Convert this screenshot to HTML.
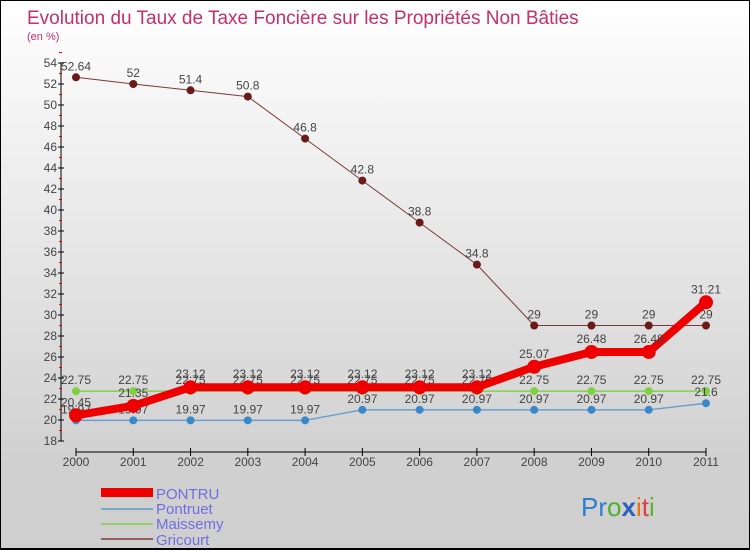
<!DOCTYPE html>
<html><head><meta charset="utf-8"><style>
body{margin:0}
#c{width:750px;height:550px;position:relative;background:linear-gradient(#ffffff,#d0d0d0 85%,#cfcfcf);font-family:"Liberation Sans",sans-serif;overflow:hidden;box-sizing:border-box;border:1px solid #000;border-bottom:2px solid #000}
svg text{font-family:"Liberation Sans",sans-serif}
</style></head><body>
<div id="c">
<svg width="750" height="550" id="s">
<text x="26" y="23" font-size="19" fill="#c3306a">Evolution du Taux de Taxe Foncière sur les Propriétés Non Bâties</text>
<text x="26" y="39" font-size="11" fill="#c3306a">(en %)</text>
<g id="ax"></g><g id="ser"></g>
<g font-size="15">
<rect x="100" y="487" width="52" height="9" fill="#e00"/>
<text x="155" y="498" fill="#6f6fe0">PONTRU</text>
<line x1="100" y1="508" x2="152" y2="508" stroke="#7aa8c8" stroke-width="2"/>
<text x="155" y="513" fill="#6f6fe0">Pontruet</text>
<line x1="100" y1="523" x2="152" y2="523" stroke="#90d070" stroke-width="2"/>
<text x="155" y="528" fill="#6f6fe0">Maissemy</text>
<line x1="100" y1="538" x2="152" y2="538" stroke="#946060" stroke-width="2"/>
<text x="155" y="544" fill="#6f6fe0">Gricourt</text>
</g>
<text x="580" y="515" font-size="26"><tspan fill="#2a7fd0">Pr</tspan><tspan fill="#50b030">o</tspan><tspan fill="#2a60c0" font-weight="bold">x</tspan><tspan fill="#f07010">i</tspan><tspan fill="#e04040">t</tspan><tspan fill="#60b030">i</tspan></text>
</svg></div>
<script>
const years=[2000,2001,2002,2003,2004,2005,2006,2007,2008,2009,2010,2011];
const pontru=[20.45,21.35,23.12,23.12,23.12,23.12,23.12,23.12,25.07,26.48,26.48,31.21];
const pontruet=[19.97,19.97,19.97,19.97,19.97,20.97,20.97,20.97,20.97,20.97,20.97,21.6];
const maissemy=[22.75,22.75,22.75,22.75,22.75,22.75,22.75,22.75,22.75,22.75,22.75,22.75];
const gricourt=[52.64,52,51.4,50.8,46.8,42.8,38.8,34.8,29,29,29,29];
const yTicks=[18,20,22,24,26,28,30,32,34,36,38,40,42,44,46,48,50,52,54];
const NS="http://www.w3.org/2000/svg";
const X=i=>75+i*(630/11);
const Y=v=>440-(v-18)*10.5;
function mk(p,t,a){const e=document.createElementNS(NS,t);for(const k in a)e.setAttribute(k,a[k]);p.appendChild(e);return e;}
const ax=document.getElementById('ax');
let l=mk(ax,'line',{x1:60,y1:Y(54),x2:60,y2:Y(18),stroke:'#000'});


yTicks.forEach(v=>{
 mk(ax,'line',{x1:57,x2:63,y1:Y(v),y2:Y(v),stroke:'#000'});
 mk(ax,'line',{x1:58,x2:61,y1:Y(v+1),y2:Y(v+1),stroke:'#e00'});
 const t=mk(ax,'text',{x:56,y:Y(v)+4,'font-size':12,'text-anchor':'end',fill:'#444'});t.textContent=v;
 
 
});
l=mk(ax,'line',{x1:X(0),y1:451,x2:X(11),y2:451,stroke:'#000'});


years.forEach((y,i)=>{
 mk(ax,'line',{x1:X(i),x2:X(i),y1:447,y2:455,stroke:'#000'});
 const t=mk(ax,'text',{x:X(i),y:465,'font-size':12,'text-anchor':'middle',fill:'#444'});t.textContent=y;
 
 
});
const ser=document.getElementById('ser');
function draw(name,data,col,dot,w,r,lab){
 const g=mk(ser,'g',{});
 
 
 mk(g,'polyline',{points:data.map((v,i)=>X(i)+','+Y(v)).join(' '),fill:'none',stroke:col,'stroke-width':w,'stroke-linejoin':'round'});
 data.forEach((v,i)=>{
  const c=mk(g,'circle',{cx:X(i),cy:Y(v),r:r,fill:dot});
  
  
  const t=mk(g,'text',{x:X(i),y:Y(v)-lab,'font-size':12,'text-anchor':'middle',fill:'#444'});t.textContent=v;
  
  
 });
}
draw('gricourt',gricourt,'#7a3a3a','#6a1a1a',1,4,7);
draw('maissemy',maissemy,'#80d050','#80d040',1.5,4,7);
draw('pontruet',pontruet,'#6a9ed0','#3a88c8',1.5,4,7);
draw('pontru',pontru,'#ee0000','#ee0000',8,7,9);
</script>
</body></html>
